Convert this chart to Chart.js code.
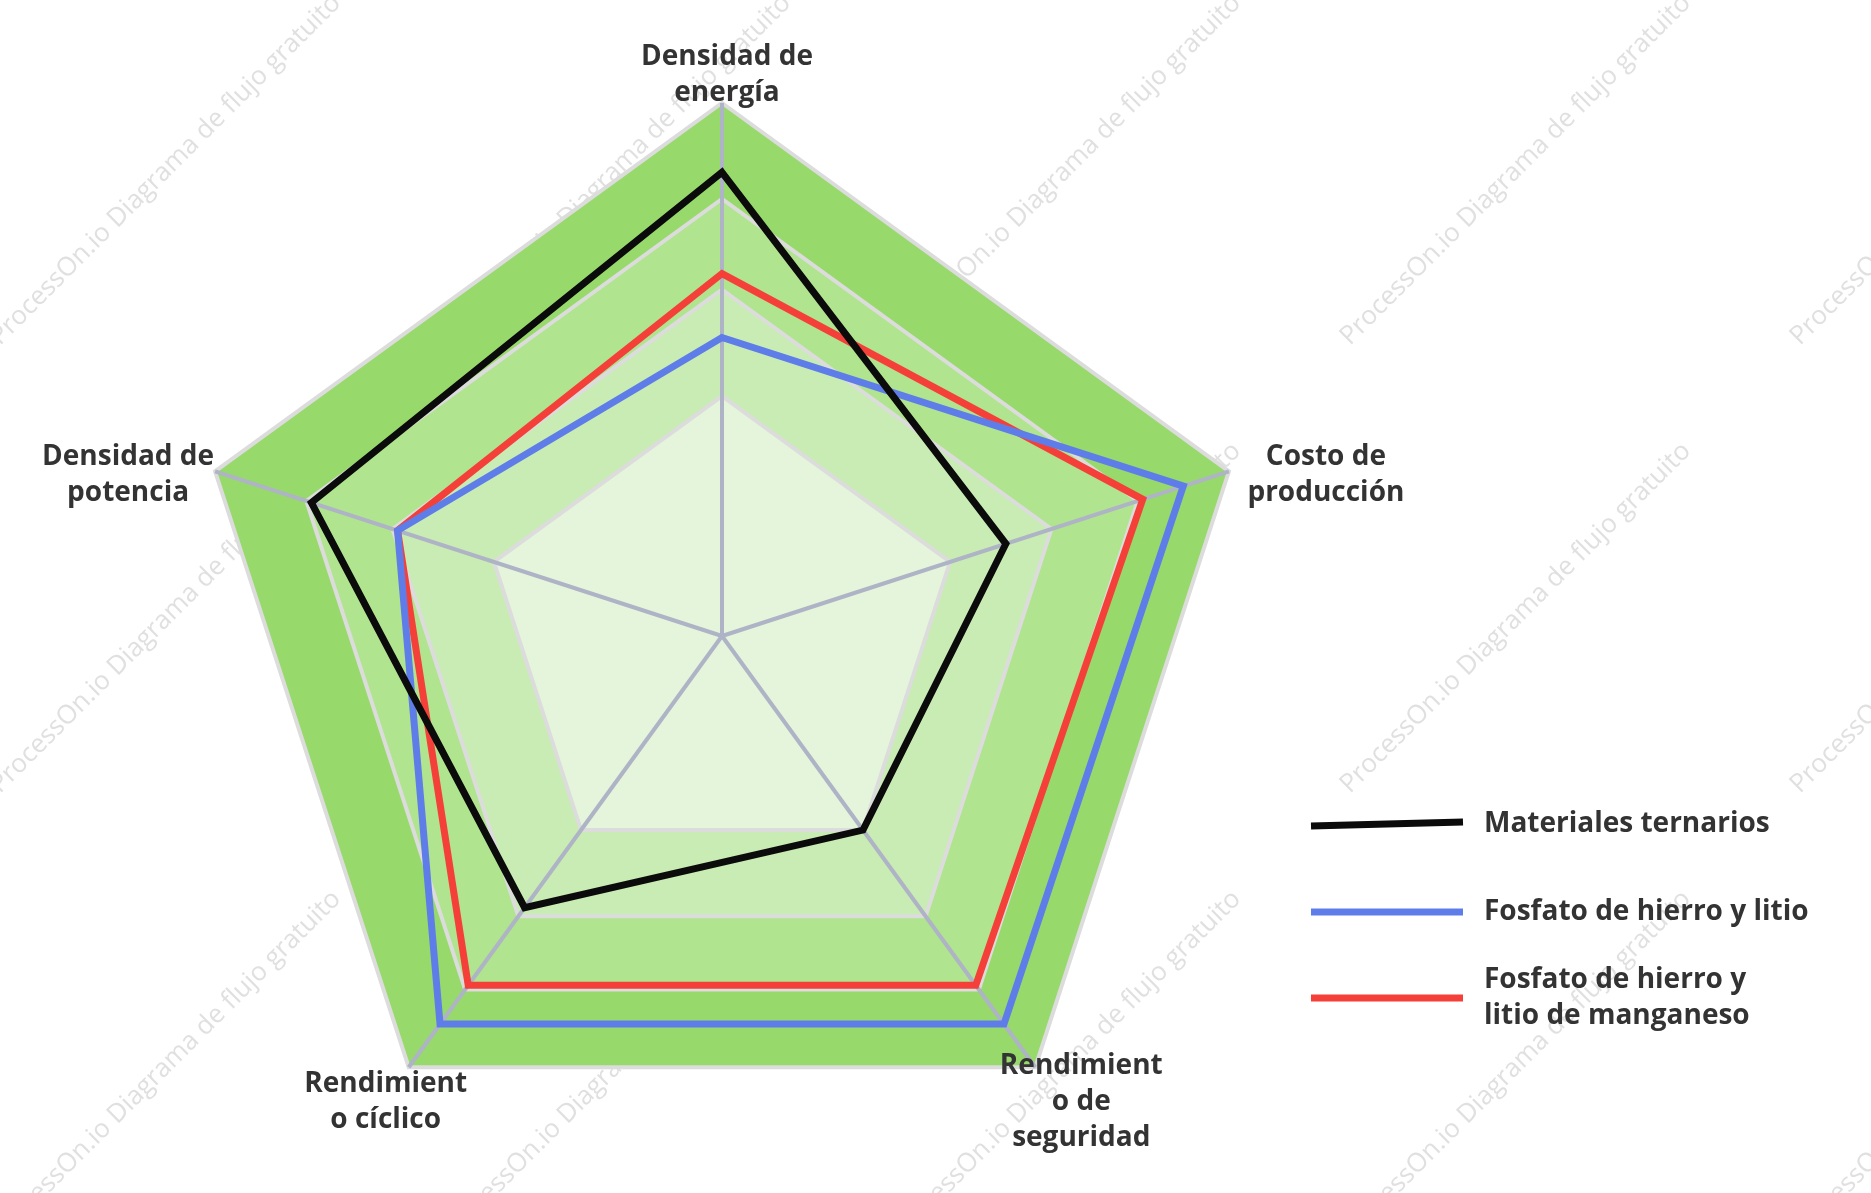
<!DOCTYPE html>
<html lang="es">
<head>
<meta charset="utf-8">
<title>Comparación de materiales</title>
<script src="https://cdn.jsdelivr.net/npm/chart.js@4"></script>
<style>
  html, body { margin: 0; padding: 0; background: #ffffff; overflow: hidden; }
  #grafico_radar { display: block; }
</style>
</head>
<body>
<canvas id="grafico_radar" width="1871" height="1193"></canvas>
<script>
// EJES DEL RADAR (cada linea de texto por separado, como en el dibujo)
const EJES = [
  ["Densidad de", "energía"],
  ["Costo de", "producción"],
  ["Rendimient", "o de", "seguridad"],
  ["Rendimient", "o cíclico"],
  ["Densidad de", "potencia"]
];

// nombres de las series (para la leyenda)
const SERIES = [
  ["Materiales ternarios"],
  ["Fosfato de hierro y litio"],
  ["Fosfato de hierro y", "litio de manganeso"]
];

// valores (0-100)
const VAL_TERNARIOS = [87, 56, 45, 63, 81];
const VAL_LFP = [56, 91, 90, 90, 64];
const VAL_LMFP = [68, 83, 81, 81, 64];

// niveles de los anillos
const NIVELES = [0, 45, 65, 82, 100];

const COLORES_SERIES = ["#0b0b0b", "#5f7de8", "#f5403a"];
const COLORES_BANDAS = ["#97d96b", "#b0e48e", "#c9ecb4", "#e5f5dc"]; // de fuera hacia dentro

// posicion de las etiquetas respecto al vertice de cada eje
const OFFSET_ETIQUETAS = [[5, -46], [97, -14], [46, -1], [-23, 17], [-87, -14]];

const FUENTE = '700 28px "Open Sans"';
const ALTO_LINEA = 36;
const COLOR_TEXTO = "#333333";

// marca de agua, detras del grafico
function dibujaMarca(ctx) {
  ctx.save();
  ctx.font = '400 26px "Open Sans"';
  ctx.fillStyle = "#e0e0e0";
  ctx.textAlign = "left";
  ctx.textBaseline = "alphabetic";
  for (let i = 0; i < 5; i++) {
    for (let j = 0; j < 3; j++) {
      ctx.save();
      ctx.translate(450 * i, 346 + 448 * j);
      ctx.rotate(-Math.PI / 4);
      ctx.fillText("ProcessOn.io Diagrama de flujo gratuito", 0, 0);
      ctx.restore();
    }
  }
  ctx.restore();
}

// bandas verdes entre anillos, antes de la rejilla
const pluginBandas = {
  id: "bandas",
  beforeDraw(chart) {
    const r = chart.scales.r;
    const ctx = chart.ctx;
    dibujaMarca(ctx);
    const niveles = NIVELES.slice(1).reverse();
    ctx.save();
    niveles.forEach(function(v, k) {
      const dist = r.getDistanceFromCenterForValue(v);
      ctx.beginPath();
      for (let i = 0; i < EJES.length; i++) {
        const p = r.getPointPosition(i, dist);
        if (i === 0) ctx.moveTo(p.x, p.y);
        else ctx.lineTo(p.x, p.y);
      }
      ctx.closePath();
      ctx.fillStyle = COLORES_BANDAS[k];
      ctx.fill();
    });
    ctx.restore();
  }
};

// etiquetas de los ejes
const pluginEtiquetas = {
  id: "etiquetas",
  afterDatasetsDraw(chart) {
    const r = chart.scales.r;
    const ctx = chart.ctx;
    ctx.save();
    ctx.font = FUENTE;
    ctx.fillStyle = COLOR_TEXTO;
    ctx.textAlign = "center";
    ctx.textBaseline = "middle";
    EJES.forEach(function(lineas, i) {
      const p = r.getPointPosition(i, r.drawingArea);
      const x = p.x + OFFSET_ETIQUETAS[i][0];
      const y = p.y + OFFSET_ETIQUETAS[i][1];
      lineas.forEach(function(t, k) {
        ctx.fillText(t, x, y + k * ALTO_LINEA);
      });
    });
    ctx.restore();
  }
};

// leyenda a la derecha
const LEYENDA_Y = [824, 912, 998];
const LEYENDA_X1 = 1311;
const LEYENDA_X2 = 1463;
const LEYENDA_TEXTO_X = 1484;

const pluginLeyenda = {
  id: "leyenda",
  afterDraw(chart) {
    const ctx = chart.ctx;
    ctx.save();
    chart.data.datasets.forEach(function(ds, i) {
      const y = LEYENDA_Y[i];
      ctx.beginPath();
      ctx.moveTo(LEYENDA_X1, y + (i === 0 ? 2 : 0));
      ctx.lineTo(LEYENDA_X2, y - (i === 0 ? 2 : 0));
      ctx.strokeStyle = ds.borderColor;
      ctx.lineWidth = 7;
      ctx.stroke();

      ctx.font = FUENTE;
      ctx.fillStyle = COLOR_TEXTO;
      ctx.textAlign = "left";
      ctx.textBaseline = "middle";
      const lineas = SERIES[i];
      const y0 = y - (lineas.length - 1) * ALTO_LINEA / 2;
      lineas.forEach(function(t, k) {
        ctx.fillText(t, LEYENDA_TEXTO_X, y0 + k * ALTO_LINEA);
      });
    });
    ctx.restore();
  }
};

function serie(i, valores) {
  return {
    label: SERIES[i].join(" "),
    data: valores,
    borderColor: COLORES_SERIES[i],
    backgroundColor: "transparent",
    borderWidth: 7,
    fill: false,
    pointRadius: 0,
    pointHoverRadius: 0
  };
}

let grafico_radar = new Chart("grafico_radar", {
  type: "radar",
  data: {
    labels: EJES,
    datasets: [
      serie(0, VAL_TERNARIOS),
      serie(1, VAL_LFP),
      serie(2, VAL_LMFP)
    ]
  },
  options: {
    responsive: false,
    animation: false,
    layout: {
      padding: { left: 189, top: 103, right: 616, bottom: 24 }
    },
    plugins: {
      legend: { display: false },
      tooltip: { enabled: false }
    },
    scales: {
      r: {
        min: 0,
        max: 100,
        afterBuildTicks: function(scale) {
          scale.ticks = NIVELES.map(function(v) { return { value: v }; });
        },
        ticks: { display: false },
        grid: { color: "#dcdcdc", lineWidth: 4 },
        angleLines: { color: "#aeb3c6", lineWidth: 4 },
        pointLabels: { display: false }
      }
    }
  },
  plugins: [pluginBandas, pluginEtiquetas, pluginLeyenda]
});
</script>
</body>
</html>
